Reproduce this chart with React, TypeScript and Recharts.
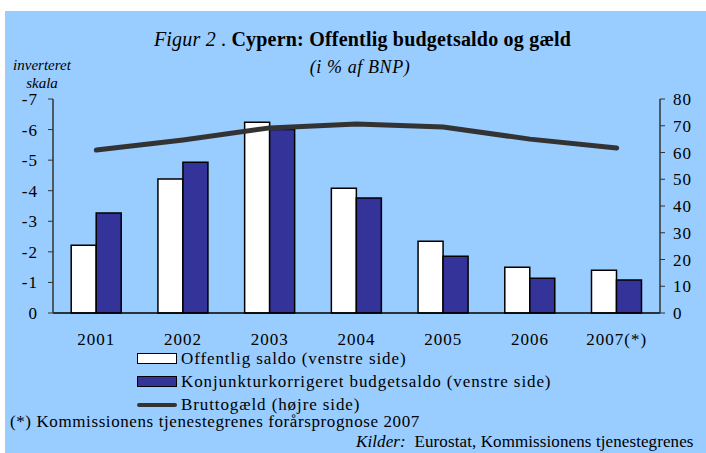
import React from "react";
import {
  ComposedChart,
  Bar,
  Line,
  XAxis,
  YAxis,
} from "recharts";

const years = ["2001", "2002", "2003", "2004", "2005", "2006", "2007(*)"];
const offentligSaldo = [-2.22, -4.38, -6.24, -4.08, -2.35, -1.5, -1.4];
const konjunkturSaldo = [-3.27, -4.93, -6.0, -3.76, -1.86, -1.14, -1.08];
const bruttoGaeld = [60.9, 64.7, 69.2, 70.7, 69.5, 65.0, 61.7];
const leftTicks = [-7, -6, -5, -4, -3, -2, -1, 0];
const rightTicks = [0, 10, 20, 30, 40, 50, 60, 70, 80];

const data = years.map((year, i) => ({
  year,
  saldo: offentligSaldo[i],
  konj: konjunkturSaldo[i],
  gaeld: bruttoGaeld[i],
}));

const serif = "'Liberation Serif', 'DejaVu Serif', serif";
const bg = "#99ccff";
const navy = "#333399";
const tickStyle = { fill: "#000", fontSize: 17, fontFamily: serif, letterSpacing: 1 };

const legendItems = [
  { label: "Offentlig saldo (venstre side)", kind: "box", color: "#ffffff" },
  { label: "Konjunkturkorrigeret budgetsaldo (venstre side)", kind: "box", color: navy },
  { label: "Bruttogæld (højre side)", kind: "line", color: "#333333" },
];

function LegendBox() {
  return (
    <div style={{ fontFamily: serif, fontSize: 17, letterSpacing: 0.9, color: "#000" }}>
      {legendItems.map((it) => (
        <div key={it.label} style={{ display: "flex", alignItems: "center", height: 23 }}>
          {it.kind === "box" ? (
            <div
              style={{
                width: 38,
                height: 9,
                background: it.color,
                border: "1.5px solid #000",
                marginRight: 4,
              }}
            />
          ) : (
            <div
              style={{
                width: 40,
                height: 4,
                background: it.color,
                borderRadius: 2,
                marginRight: 4,
              }}
            />
          )}
          <span style={{ lineHeight: "16px" }}>{it.label}</span>
        </div>
      ))}
    </div>
  );
}

export default function App() {
  return (
    <div
      style={{
        position: "absolute",
        left: 0,
        top: 0,
        width: 706,
        height: 453,
        background: "#fff",
        overflow: "hidden",
      }}
    >
      <div
        style={{
          position: "absolute",
          left: 5,
          top: 11,
          width: 701,
          height: 442,
          background: bg,
        }}
      />
      <div
        style={{
          position: "absolute",
          left: 0,
          top: 28,
          width: 725,
          textAlign: "center",
          fontFamily: serif,
          fontSize: 20,
          letterSpacing: 0.2,
          color: "#000",
          whiteSpace: "nowrap",
        }}
      >
        <span style={{ fontStyle: "italic" }}>Figur 2 </span>.{" "}
        <span style={{ fontWeight: "bold" }}>Cypern: Offentlig budgetsaldo og gæld</span>
      </div>
      <div
        style={{
          position: "absolute",
          left: 0,
          top: 57,
          width: 720,
          textAlign: "center",
          fontFamily: serif,
          fontSize: 18,
          letterSpacing: 0.6,
          fontStyle: "italic",
          color: "#000",
        }}
      >
        (i % af BNP)
      </div>
      <div
        style={{
          position: "absolute",
          left: 6,
          top: 56,
          width: 72,
          textAlign: "center",
          fontFamily: serif,
          fontSize: 15,
          fontStyle: "italic",
          lineHeight: "18px",
          color: "#000",
        }}
      >
        inverteret
        <br />
        skala
      </div>

      <div style={{ position: "absolute", left: 0, top: 0 }}>
        <ComposedChart
          width={706}
          height={453}
          data={data}
          margin={{ top: 99, right: 0, bottom: 110, left: 0 }}
          barCategoryGap="21%"
          barGap={0}
        >
          <XAxis
            dataKey="year"
            height={30}
            tickLine={false}
            tickMargin={14}
            axisLine={{ stroke: "#000", strokeWidth: 1.5 }}
            tick={tickStyle}
            interval={0}
          />
          <YAxis
            yAxisId="left"
            width={53}
            reversed
            domain={[-7, 0]}
            ticks={leftTicks}
            interval={0}
            tickSize={5}
            tickMargin={10}
            axisLine={{ stroke: "#333", strokeWidth: 1.5 }}
            tickLine={{ stroke: "#333" }}
            tick={tickStyle}
          />
          <YAxis
            yAxisId="right"
            orientation="right"
            width={46}
            domain={[0, 80]}
            ticks={rightTicks}
            interval={0}
            tickSize={5}
            tickMargin={8}
            axisLine={{ stroke: "#333", strokeWidth: 1.5 }}
            tickLine={{ stroke: "#333" }}
            tick={{ ...tickStyle, textAnchor: "start" }}
          />
          <Bar
            yAxisId="left"
            dataKey="saldo"
            fill="#ffffff"
            stroke="#000"
            strokeWidth={1.5}
            isAnimationActive={false}
          />
          <Bar
            yAxisId="left"
            dataKey="konj"
            fill={navy}
            stroke="#000"
            strokeWidth={1.5}
            isAnimationActive={false}
          />
          <Line
            yAxisId="right"
            dataKey="gaeld"
            stroke="#333333"
            strokeWidth={5}
            dot={false}
            strokeLinecap="round"
            isAnimationActive={false}
          />
        </ComposedChart>
      </div>

      <div style={{ position: "absolute", left: 137, top: 347 }}>
        <LegendBox />
      </div>

      <div
        style={{
          position: "absolute",
          left: 10,
          top: 414,
          fontFamily: serif,
          fontSize: 17,
          lineHeight: "16px",
          letterSpacing: 0.6,
          color: "#000",
          whiteSpace: "nowrap",
        }}
      >
        (*) Kommissionens tjenestegrenes forårsprognose 2007
      </div>
      <div
        style={{
          position: "absolute",
          left: 356,
          top: 434,
          fontFamily: serif,
          fontSize: 17,
          lineHeight: "16px",
          letterSpacing: 0.1,
          color: "#000",
          whiteSpace: "nowrap",
        }}
      >
        <span style={{ fontStyle: "italic" }}>Kilder:</span>&nbsp; Eurostat, Kommissionens tjenestegrenes
      </div>
    </div>
  );
}
